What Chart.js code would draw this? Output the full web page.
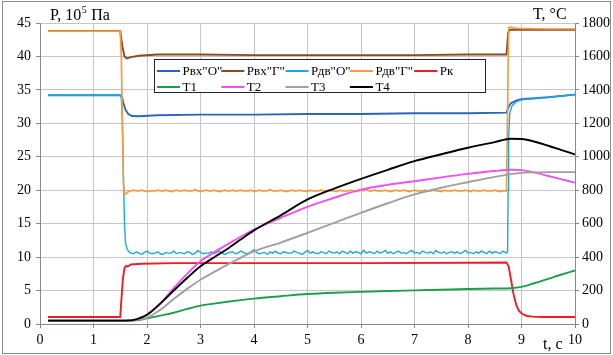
<!DOCTYPE html>
<html>
<head>
<meta charset="utf-8">
<script src="https://cdn.jsdelivr.net/npm/chart.js@4.4.0/dist/chart.umd.min.js"></script>
<style>
  html, body { margin: 0; padding: 0; background: #fff; }
</style>
</head>
<body>
<canvas id="testChart" width="613" height="355"></canvas>
<script>
// --- data ---
const timeTicks = [0, 1, 2, 3, 4, 5, 6, 7, 8, 9, 10];
const pTicks = [0, 5, 10, 15, 20, 25, 30, 35, 40, 45];
const tempTicks = [0, 200, 400, 600, 800, 1000, 1200, 1400, 1600, 1800];

// sample times of the logged (noisy) part, 1.70 .. 8.70 s every 0.05 s
const tLog = [];
for (let i = 0; i <= 140; i++) tLog.push(+(1.7 + i * 0.05).toFixed(2));

const tPvxO = [0.15, 1.5, 1.53, 1.56, 1.6, 1.65, 1.72, 1.85, 2.2, 3, 4, 5, 6, 7, 8, 8.72, 8.76, 8.8, 8.9, 9.0, 9.5, 10];
const pvxO  = [34.2, 34.2, 34.0, 33.0, 32.0, 31.4, 31.1, 31.05, 31.2, 31.3, 31.3, 31.4, 31.4, 31.5, 31.5, 31.6, 32.5, 33.0, 33.4, 33.6, 33.9, 34.3];

const tPvxG = [0.15, 1.5, 1.54, 1.58, 1.62, 1.7, 1.85, 2.2, 3, 4, 5, 6, 7, 8, 8.72, 8.75, 8.78, 9, 10];
const pvxG  = [43.8, 43.8, 41.5, 40.0, 39.7, 39.9, 40.1, 40.3, 40.3, 40.2, 40.2, 40.2, 40.2, 40.3, 40.3, 43.5, 44.0, 44.0, 44.0];

const tPdvOHead = [0.15, 1.5, 1.52, 1.54, 1.56, 1.58, 1.6, 1.63, 1.66];
const pdvOHead  = [34.2, 34.2, 33.8, 30, 22, 15, 12, 11.2, 10.8];
const pdvOLog = [
  10.6, 10.5, 10.8, 10.6, 10.4, 10.7, 10.9, 10.6, 10.5, 10.6, 10.8, 10.5, 10.4, 10.7, 10.6, 10.6, 10.9, 10.5, 10.7, 10.6,
  10.5, 10.8, 10.7, 10.4, 10.6, 11.0, 10.7, 10.5, 10.6, 10.6, 10.8, 10.5, 10.7, 10.9, 10.6, 10.4, 10.6, 10.7, 10.8, 10.5,
  10.6, 10.9, 10.7, 10.5, 10.6, 10.8, 11.1, 10.7, 10.5, 10.6, 10.7, 10.4, 10.8, 10.6, 10.9, 10.6, 10.5, 10.8, 10.7, 10.6,
  10.6, 10.9, 10.7, 10.6, 10.4, 10.7, 11.0, 10.6, 10.8, 10.6, 10.5, 10.8, 10.7, 10.5, 10.9, 10.7, 10.6, 10.8, 10.5, 10.9,
  10.7, 10.5, 10.9, 10.6, 10.8, 10.7, 10.5, 11.0, 10.6, 10.8, 10.7, 10.5, 10.9, 10.6, 10.7, 11.0, 10.6, 10.8, 10.5, 10.7,
  10.9, 10.6, 10.7, 10.5, 10.8, 11.0, 10.6, 10.7, 10.5, 10.9, 10.7, 10.6, 10.8, 10.5, 11.0, 10.7, 10.6, 10.8, 10.5, 10.7,
  10.8, 10.6, 10.8, 10.5, 10.7, 11.0, 10.6, 10.7, 10.5, 10.8, 10.6, 10.9, 10.7, 10.5, 10.9, 10.6, 10.8, 10.7, 10.5, 10.9,
  10.7
];
const tPdvOTail = [8.72, 8.74, 8.75, 8.76, 8.78, 8.82, 8.9, 9.0, 9.5, 10];
const pdvOTail  = [10.6, 10.8, 20, 28, 31.5, 32.6, 33.2, 33.5, 33.9, 34.3];

const tPdvGHead = [0.15, 1.5, 1.52, 1.54, 1.56, 1.58, 1.6, 1.64, 1.67];
const pdvGHead  = [43.8, 43.8, 40, 30, 21, 19.5, 19.4, 19.7, 19.9];
const pdvGLog = [
  19.9, 20.0, 19.9, 19.9, 20.0, 19.9, 19.8, 19.9, 19.9, 19.9, 20.0, 19.9, 19.9, 20.0, 19.9, 19.8, 19.9, 20.0, 19.9, 19.9,
  20.0, 19.9, 19.9, 19.9, 20.1, 19.9, 19.8, 19.9, 20.0, 19.9, 19.9, 20.0, 19.9, 19.8, 19.9, 20.0, 19.9, 19.9, 20.0, 19.9,
  19.9, 20.0, 19.9, 19.9, 19.9, 20.0, 19.8, 19.9, 20.0, 19.9, 19.9, 19.9, 20.1, 19.9, 19.9, 19.9, 20.0, 19.9, 19.8, 19.9,
  20.0, 19.9, 19.9, 20.0, 19.9, 19.9, 19.8, 20.0, 19.9, 19.9, 19.9, 20.0, 19.9, 19.9, 20.0, 19.9, 19.9, 19.8, 20.0, 19.9,
  19.9, 19.9, 20.0, 19.9, 19.8, 19.9, 20.0, 19.9, 20.1, 19.9, 19.9, 20.0, 19.9, 19.9, 19.9, 20.0, 19.9, 19.8, 19.9, 20.0,
  19.9, 19.9, 20.0, 19.9, 19.8, 19.9, 20.0, 19.9, 19.9, 19.9, 20.0, 19.9, 19.9, 20.0, 19.9, 19.9, 19.8, 20.0, 19.9, 19.9,
  19.9, 20.0, 19.9, 19.9, 19.9, 20.0, 19.9, 19.8, 20.0, 19.9, 19.9, 19.9, 20.0, 19.9, 19.9, 19.9, 20.0, 19.9, 19.8, 19.9,
  19.9
];
const tPdvGTail = [8.72, 8.74, 8.76, 8.8, 8.9, 9.5, 10];
const pdvGTail  = [19.9, 32, 44.3, 44.4, 44.2, 44.1, 44.1];

const tPk = [0.15, 1.5, 1.52, 1.55, 1.58, 1.61, 1.64, 1.7, 1.9, 2.5, 4, 6, 8, 8.72, 8.76, 8.8, 8.85, 8.9, 8.95, 9.0, 9.05, 9.1, 9.2, 9.4, 10];
const pk  = [1.05, 1.05, 3.5, 6.8, 8.4, 8.7, 8.6, 8.9, 9.0, 9.1, 9.1, 9.1, 9.15, 9.2, 8.6, 6.8, 4.5, 2.9, 2.0, 1.6, 1.35, 1.2, 1.1, 1.05, 1.05];

const tTemp = [0.15, 1.6, 1.8, 2.0, 2.25, 2.5, 2.75, 3.0, 3.25, 3.5, 3.75, 4.0, 4.5, 5.0, 5.5, 6.0, 6.5, 7.0, 7.5, 8.0, 8.5, 8.8, 9.0, 9.25, 9.5, 9.75, 10];
const temp1 = [20, 20, 22, 34, 50, 67, 90, 110, 122, 133, 143, 152, 166, 179, 187, 192, 197, 201, 205, 209, 212, 214, 222, 245, 270, 296, 320];
const temp2 = [20, 20, 28, 55, 124, 215, 300, 375, 428, 475, 522, 565, 635, 701, 755, 804, 832, 854, 877, 898, 915, 922, 920, 905, 885, 865, 845];
const temp3 = [20, 20, 24, 38, 85, 150, 210, 265, 310, 355, 396, 435, 487, 545, 605, 665, 722, 775, 815, 848, 880, 896, 904, 907, 908, 908, 908];
const temp4 = [20, 20, 28, 55, 122, 200, 275, 345, 398, 449, 505, 560, 650, 745, 810, 868, 922, 974, 1015, 1054, 1088, 1108, 1106, 1090, 1066, 1040, 1014];

const seriesNames = ['Рвх"О"', 'Рвх"Г"', 'Рдв"О"', 'Рдв"Г"', 'Рк', 'T1', 'T2', 'T3', 'T4'];
const seriesColors = ['#2b66bd', '#8a4a20', '#1aa9e2', '#f39b45', '#ee1c24', '#1c9f4c', '#f050f0', '#a0a0a0', '#000000'];

const SERIF = '"Liberation Serif", "Times New Roman", serif';

function pts(ts, vs) {
  return ts.map((t, i) => ({ x: t, y: vs[i] }));
}

const seriesData = [
  pts(tPvxO, pvxO),
  pts(tPvxG, pvxG),
  pts(tPdvOHead.concat(tLog, tPdvOTail), pdvOHead.concat(pdvOLog, pdvOTail)),
  pts(tPdvGHead.concat(tLog, tPdvGTail), pdvGHead.concat(pdvGLog, pdvGTail)),
  pts(tPk, pk),
  pts(tTemp, temp1),
  pts(tTemp, temp2),
  pts(tTemp, temp3),
  pts(tTemp, temp4)
];

// legend box + axis titles + outer frame
const decorPlugin = {
  id: 'decor',
  afterDatasetsDraw(chart) {
    const ctx = chart.ctx;
    ctx.save();
    ctx.fillStyle = '#fff';
    ctx.fillRect(154.5, 59.5, 331, 33);
    ctx.strokeStyle = '#222';
    ctx.lineWidth = 1;
    ctx.strokeRect(154.5, 59.5, 331, 33);
    ctx.font = '13px ' + SERIF;
    ctx.textBaseline = 'middle';
    ctx.fillStyle = '#000';
    seriesNames.forEach((name, i) => {
      const col = i < 5 ? i : i - 5;
      const row = i < 5 ? 0 : 1;
      const x = 157 + col * 64.3;
      const y = row === 0 ? 71 : 87;
      ctx.strokeStyle = seriesColors[i];
      ctx.lineWidth = 2;
      ctx.beginPath();
      ctx.moveTo(x, y);
      ctx.lineTo(x + 23, y);
      ctx.stroke();
      ctx.fillText(name, x + 25.5, y + 0.5);
    });
    ctx.restore();
  },
  afterDraw(chart) {
    const ctx = chart.ctx;
    ctx.save();
    ctx.fillStyle = '#000';
    ctx.textBaseline = 'alphabetic';
    ctx.font = '16px ' + SERIF;
    let x = 50;
    ctx.fillText('P, 10', x, 20);
    x += ctx.measureText('P, 10').width;
    ctx.font = '10px ' + SERIF;
    ctx.fillText('5', x + 0.5, 13);
    x += ctx.measureText('5').width + 1;
    ctx.font = '16px ' + SERIF;
    ctx.fillText(' Па', x, 20);
    ctx.fillText('T, °C', 533, 19);
    ctx.fillText('t, с', 543, 349);
    ctx.strokeStyle = '#8c8c8c';
    ctx.lineWidth = 1;
    ctx.strokeRect(2.5, 1.5, 608, 352);
    ctx.restore();
  }
};

const datasets = seriesData.map((d, i) => ({
  label: seriesNames[i],
  data: d,
  yAxisID: i < 5 ? 'yP' : 'yT',
  borderColor: seriesColors[i],
  backgroundColor: seriesColors[i],
  borderWidth: i === 2 ? 1.4 : (i === 3 ? 1.7 : 1.9),
  pointRadius: 0,
  tension: 0,
  cubicInterpolationMode: i < 5 ? 'default' : 'monotone',
  order: 20 - i,
  fill: false
}));

const gridStyle = { color: '#c4c4c4', lineWidth: 1, tickLength: 4, tickColor: '#888' };
const tickFont = { family: SERIF, size: 14 };
const plainLabel = v => String(v);

new Chart(document.getElementById('testChart').getContext('2d'), {
  type: 'line',
  data: { datasets },
  plugins: [decorPlugin],
  options: {
    responsive: false,
    animation: false,
    events: [],
    layout: { padding: { top: 23, left: 0, right: 0, bottom: 0 } },
    scales: {
      x: {
        type: 'linear',
        min: 0,
        max: 10,
        afterBuildTicks: s => { s.ticks = timeTicks.map(v => ({ value: v })); },
        afterFit: s => { s.height = 31; },
        ticks: { color: '#000', font: tickFont, padding: 4, maxRotation: 0, callback: plainLabel },
        grid: gridStyle,
        border: { color: '#888' }
      },
      yP: {
        position: 'left',
        min: 0,
        max: 45,
        afterBuildTicks: s => { s.ticks = pTicks.map(v => ({ value: v })); },
        afterFit: s => { s.width = 40; },
        ticks: { color: '#000', font: tickFont, padding: 5, callback: plainLabel },
        grid: gridStyle,
        border: { color: '#888' }
      },
      yT: {
        position: 'right',
        min: 0,
        max: 1800,
        afterBuildTicks: s => { s.ticks = tempTicks.map(v => ({ value: v })); },
        afterFit: s => { s.width = 38; },
        ticks: { color: '#000', font: tickFont, padding: 3, callback: plainLabel },
        grid: { drawOnChartArea: false, tickLength: 4, tickColor: '#888' },
        border: { color: '#888' }
      }
    },
    plugins: {
      legend: { display: false },
      tooltip: { enabled: false }
    }
  }
});
</script>
</body>
</html>
